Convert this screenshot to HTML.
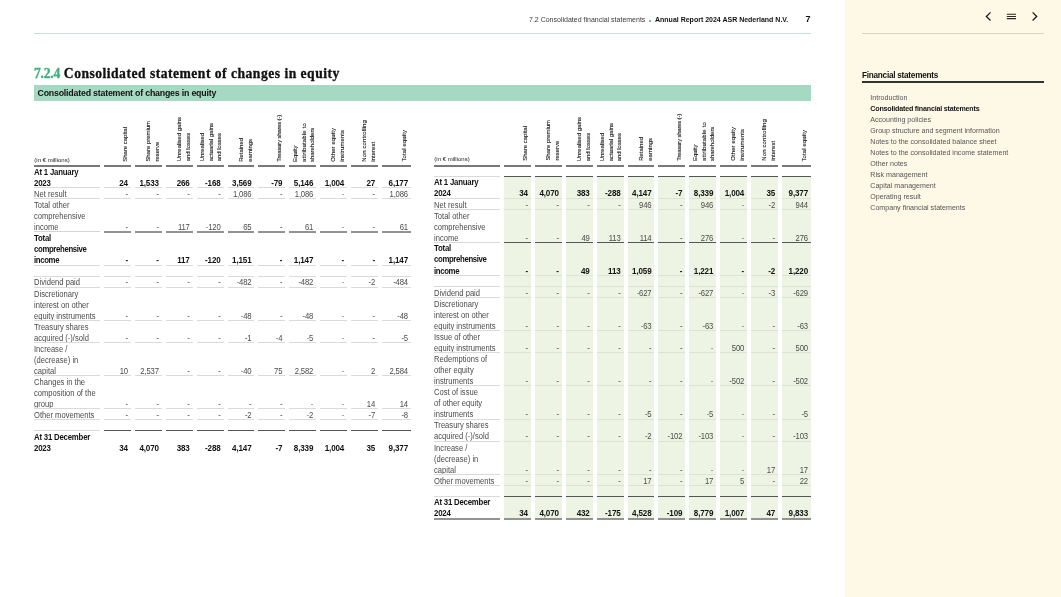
<!DOCTYPE html>
<html lang="en"><head><meta charset="utf-8"><title>7.2.4 Consolidated statement of changes in equity</title>
<style>
*{box-sizing:border-box}
html,body{margin:0;padding:0}
body{width:1061px;height:597px;overflow:hidden;background:#fff;font-family:"Liberation Sans",sans-serif;color:#222;position:relative}
.page{position:absolute;left:0;top:0;width:845px;height:597px;will-change:transform}
.top{position:absolute;left:400px;top:14px;width:411px;height:12px;line-height:12px;font-size:7px;color:#3a3a3a;white-space:nowrap;text-align:right}
.top .crumb{position:absolute;left:129px}
.top .dot{position:absolute;left:249px;top:5.9px;width:2.2px;height:2.2px;border-radius:50%;background:#3fae82;font-size:0;overflow:hidden}
.top .rep{position:absolute;left:255px;font-weight:bold;color:#111}
.top .pn{position:absolute;top:-0.6px;left:405.5px;font-weight:bold;color:#111;font-size:9px}
.toprule{position:absolute;left:34px;top:33px;width:777px;height:1px;background:#bfe5d8}
h1{position:absolute;left:34px;top:65.2px;margin:0;font-family:"Liberation Serif",serif;font-weight:bold;font-size:13.6px;letter-spacing:0.49px;line-height:18px;color:#111;white-space:nowrap;-webkit-text-stroke:0.3px #111}
h1 .num{color:#3fae82;letter-spacing:-0.25px;-webkit-text-stroke:0.3px #3fae82}
.bar{position:absolute;left:34px;top:85px;width:777px;height:16px;background:#a6d9c4;font-weight:bold;font-size:8.8px;letter-spacing:-0.2px;line-height:16px;padding-left:3.5px;color:#111;white-space:nowrap}
table.eq{position:absolute;top:104.85px;border-collapse:separate;border-spacing:4px 0;table-layout:fixed;width:385px;font-size:7.7px;color:#4a4a4a}
table.t1{left:30px;top:105.3px}
table.t2{left:430px}
col.c0{width:66px}col.cn{width:26.9px}col.cl{width:28.9px}
.eq th,.eq td{padding:0;margin:0}
.eq th{height:61px;position:relative;font-weight:normal}
.eq th::after{content:"";position:absolute;left:0;right:0;bottom:-0.7px;height:2px;background:#787878}
.eq th .vt{position:absolute;right:1.33px;bottom:4.8px;writing-mode:vertical-rl;transform:rotate(180deg);font-size:5.95px;line-height:8.65px;text-align:left;white-space:nowrap;color:#1a1a1a;-webkit-text-stroke:0.12px #1a1a1a}
.eq th .vt.l2{right:0.38px}
.eq th .vt.l3{right:-0.37px}
.eq th:last-child .vt{right:2.2px}
.eq th.lab .unit{position:absolute;left:0.3px;bottom:2.4px;font-size:6px;line-height:8px;color:#222}
.eq td{position:relative;line-height:11.04px;vertical-align:bottom;text-align:right;padding-right:3px;white-space:nowrap;letter-spacing:-0.15px}
.eq td::after{content:"";position:absolute;left:0;right:0;bottom:0;height:1px;background:#dadada}
.eq td.lab{text-align:left;padding:0;letter-spacing:0;font-size:7.6px}
.eq td span{position:relative;top:0.88px;display:block;height:11.04px;transform:scaleY(1.07);transform-origin:0 74%}
.eq tr.h1 td{height:11.04px}.eq tr.h2 td{height:22.07px}.eq tr.h3 td{height:33.1px}
.eq tr.bold td{font-weight:bold;color:#111;font-size:8.05px}
.eq tr.bold td span{top:0.38px}
.t1 tr.bold td span{top:0.7px}
.eq tr.bold td.lab .nw{letter-spacing:-0.36px}
.eq tr.bold td.lab{letter-spacing:-0.2px;font-size:7.8px}
.eq tr.tot td::after{bottom:-0.5px;height:2px;background:#939393}
.eq tr.tot td.lab::after{bottom:0;height:1px;background:#d4d4d4}
.eq tr.dk td::after{background:#555}
.eq tr.dk td.lab::after{background:#dadada}
.eq tr.none td::after{display:none}

.t2 tbody td{background:#eef4e4}
.t2 tbody td::after{background:#dde2d4}
.t2 tbody td.lab{background:none}
.t2 tbody td.lab::after{background:#dadada}
.t2 tbody tr:first-child td{background:none}
.t2 tr.tot td::after{bottom:0;height:1px;background:#555}
.t2 tr.tot td.lab::after{bottom:0;height:1px;background:#dadada}
.t2 tr.dk td::after{background:#555}
.t2 tr.dk td.lab::after{background:#dadada}
.t2 tr.end td::after,.t2 tr.end td.lab::after{bottom:-0.9px;height:2px;background:#939393}
.side{position:absolute;left:845px;top:0;width:216px;height:597px;background:#fef8e6;will-change:transform}
.side .icons{position:absolute;left:0;top:0;width:216px;height:33px}
.side svg.nav{position:absolute;left:130px;top:5px;width:75px;height:25px}
.siderule{position:absolute;left:17px;top:33px;width:182px;height:1px;background:#d9d2c2}
.side h2{position:absolute;left:17px;top:69.7px;width:182px;margin:0;font-size:8.2px;letter-spacing:-0.25px;line-height:12px;font-weight:bold;color:#111;height:12px;white-space:nowrap}
.side h2::after{content:"";position:absolute;left:0;top:11.6px;width:182px;height:2px;background:#333}
.side ul{position:absolute;left:25.3px;top:92.55px;margin:0;padding:0;list-style:none;font-size:7.1px;line-height:11.06px;color:#555;white-space:nowrap}
.side li.cur{font-weight:bold;color:#111;letter-spacing:-0.18px}

</style></head>
<body>
<div class="page">
<header class="top"><span class="crumb">7.2 Consolidated financial statements</span><span class="dot">•</span><span class="rep">Annual Report 2024 ASR Nederland N.V.</span><span class="pn">7</span></header>
<div class="toprule"></div>
<h1><span class="num">7.2.4</span> Consolidated statement of changes in equity</h1>
<div class="bar">Consolidated statement of changes in equity</div>
<table class="eq t1">
<colgroup><col class="c0"><col class="cn"><col class="cn"><col class="cn"><col class="cn"><col class="cn"><col class="cn"><col class="cn"><col class="cn"><col class="cn"><col class="cl"></colgroup>
<thead><tr>
<th class="lab"><span class="unit">(in € millions)</span></th>
<th><div class="vt l1">Share capital</div></th>
<th><div class="vt l2">Share premium<br>reserve</div></th>
<th><div class="vt l2">Unrealised gains<br>and losses</div></th>
<th><div class="vt l3">Unrealised<br>actuarial gains<br>and losses</div></th>
<th><div class="vt l2">Retained<br>earnings</div></th>
<th><div class="vt l1"><span style="letter-spacing:-0.18px">Treasury shares (-)</span></div></th>
<th><div class="vt l3">Equity<br><span style="letter-spacing:0.2px">attributable to</span><br>shareholders</div></th>
<th><div class="vt l2"><span style="letter-spacing:0.12px">Other equity</span><br><span style="letter-spacing:0.12px">instruments</span></div></th>
<th><div class="vt l2"><span style="letter-spacing:0.14px">Non controlling</span><br><span style="letter-spacing:0.05px">interest</span></div></th>
<th><div class="vt l1"><span style="letter-spacing:0.12px">Total equity</span></div></th>
</tr></thead>
<tbody>
<tr class="bold h2"><td class="lab"><span>At 1 January</span><span>2023</span></td><td><span>24</span></td><td><span>1,533</span></td><td><span>266</span></td><td><span>-168</span></td><td><span>3,569</span></td><td><span>-79</span></td><td><span>5,146</span></td><td><span>1,004</span></td><td><span>27</span></td><td><span>6,177</span></td></tr>
<tr class="h1"><td class="lab"><span>Net result</span></td><td><span>-</span></td><td><span>-</span></td><td><span>-</span></td><td><span>-</span></td><td><span>1,086</span></td><td><span>-</span></td><td><span>1,086</span></td><td><span>-</span></td><td><span>-</span></td><td><span>1,086</span></td></tr>
<tr class="h3 tot"><td class="lab"><span>Total other</span><span>comprehensive</span><span>income</span></td><td><span>-</span></td><td><span>-</span></td><td><span>117</span></td><td><span>-120</span></td><td><span>65</span></td><td><span>-</span></td><td><span>61</span></td><td><span>-</span></td><td><span>-</span></td><td><span>61</span></td></tr>
<tr class="bold h3"><td class="lab"><span>Total</span><span class="nw">comprehensive</span><span class="nw">income</span></td><td><span>-</span></td><td><span>-</span></td><td><span>117</span></td><td><span>-120</span></td><td><span>1,151</span></td><td><span>-</span></td><td><span>1,147</span></td><td><span>-</span></td><td><span>-</span></td><td><span>1,147</span></td></tr>
<tr class="h1"><td class="lab"><span></span></td><td><span></span></td><td><span></span></td><td><span></span></td><td><span></span></td><td><span></span></td><td><span></span></td><td><span></span></td><td><span></span></td><td><span></span></td><td><span></span></td></tr>
<tr class="h1"><td class="lab"><span>Dividend paid</span></td><td><span>-</span></td><td><span>-</span></td><td><span>-</span></td><td><span>-</span></td><td><span>-482</span></td><td><span>-</span></td><td><span>-482</span></td><td><span>-</span></td><td><span>-2</span></td><td><span>-484</span></td></tr>
<tr class="h3"><td class="lab"><span>Discretionary</span><span>interest on other</span><span>equity instruments</span></td><td><span>-</span></td><td><span>-</span></td><td><span>-</span></td><td><span>-</span></td><td><span>-48</span></td><td><span>-</span></td><td><span>-48</span></td><td><span>-</span></td><td><span>-</span></td><td><span>-48</span></td></tr>
<tr class="h2"><td class="lab"><span>Treasury shares</span><span>acquired (-)/sold</span></td><td><span>-</span></td><td><span>-</span></td><td><span>-</span></td><td><span>-</span></td><td><span>-1</span></td><td><span>-4</span></td><td><span>-5</span></td><td><span>-</span></td><td><span>-</span></td><td><span>-5</span></td></tr>
<tr class="h3"><td class="lab"><span>Increase /</span><span>(decrease) in</span><span>capital</span></td><td><span>10</span></td><td><span>2,537</span></td><td><span>-</span></td><td><span>-</span></td><td><span>-40</span></td><td><span>75</span></td><td><span>2,582</span></td><td><span>-</span></td><td><span>2</span></td><td><span>2,584</span></td></tr>
<tr class="h3"><td class="lab"><span>Changes in the</span><span>composition of the</span><span>group</span></td><td><span>-</span></td><td><span>-</span></td><td><span>-</span></td><td><span>-</span></td><td><span>-</span></td><td><span>-</span></td><td><span>-</span></td><td><span>-</span></td><td><span>14</span></td><td><span>14</span></td></tr>
<tr class="h1"><td class="lab"><span>Other movements</span></td><td><span>-</span></td><td><span>-</span></td><td><span>-</span></td><td><span>-</span></td><td><span>-2</span></td><td><span>-</span></td><td><span>-2</span></td><td><span>-</span></td><td><span>-7</span></td><td><span>-8</span></td></tr>
<tr class="h1 dk"><td class="lab"><span></span></td><td><span></span></td><td><span></span></td><td><span></span></td><td><span></span></td><td><span></span></td><td><span></span></td><td><span></span></td><td><span></span></td><td><span></span></td><td><span></span></td></tr>
<tr class="bold h2 none"><td class="lab"><span>At 31 December</span><span>2023</span></td><td><span>34</span></td><td><span>4,070</span></td><td><span>383</span></td><td><span>-288</span></td><td><span>4,147</span></td><td><span>-7</span></td><td><span>8,339</span></td><td><span>1,004</span></td><td><span>35</span></td><td><span>9,377</span></td></tr>
</tbody></table>
<table class="eq t2">
<colgroup><col class="c0"><col class="cn"><col class="cn"><col class="cn"><col class="cn"><col class="cn"><col class="cn"><col class="cn"><col class="cn"><col class="cn"><col class="cl"></colgroup>
<thead><tr>
<th class="lab"><span class="unit">(in € millions)</span></th>
<th><div class="vt l1">Share capital</div></th>
<th><div class="vt l2">Share premium<br>reserve</div></th>
<th><div class="vt l2">Unrealised gains<br>and losses</div></th>
<th><div class="vt l3">Unrealised<br>actuarial gains<br>and losses</div></th>
<th><div class="vt l2">Retained<br>earnings</div></th>
<th><div class="vt l1"><span style="letter-spacing:-0.18px">Treasury shares (-)</span></div></th>
<th><div class="vt l3">Equity<br><span style="letter-spacing:0.2px">attributable to</span><br>shareholders</div></th>
<th><div class="vt l2"><span style="letter-spacing:0.12px">Other equity</span><br><span style="letter-spacing:0.12px">instruments</span></div></th>
<th><div class="vt l2"><span style="letter-spacing:0.14px">Non controlling</span><br><span style="letter-spacing:0.05px">interest</span></div></th>
<th><div class="vt l1"><span style="letter-spacing:0.12px">Total equity</span></div></th>
</tr></thead>
<tbody>
<tr class="h1 dk"><td class="lab"><span></span></td><td><span></span></td><td><span></span></td><td><span></span></td><td><span></span></td><td><span></span></td><td><span></span></td><td><span></span></td><td><span></span></td><td><span></span></td><td><span></span></td></tr>
<tr class="bold h2"><td class="lab"><span>At 1 January</span><span>2024</span></td><td><span>34</span></td><td><span>4,070</span></td><td><span>383</span></td><td><span>-288</span></td><td><span>4,147</span></td><td><span>-7</span></td><td><span>8,339</span></td><td><span>1,004</span></td><td><span>35</span></td><td><span>9,377</span></td></tr>
<tr class="h1"><td class="lab"><span>Net result</span></td><td><span>-</span></td><td><span>-</span></td><td><span>-</span></td><td><span>-</span></td><td><span>946</span></td><td><span>-</span></td><td><span>946</span></td><td><span>-</span></td><td><span>-2</span></td><td><span>944</span></td></tr>
<tr class="h3 tot"><td class="lab"><span>Total other</span><span>comprehensive</span><span>income</span></td><td><span>-</span></td><td><span>-</span></td><td><span>49</span></td><td><span>113</span></td><td><span>114</span></td><td><span>-</span></td><td><span>276</span></td><td><span>-</span></td><td><span>-</span></td><td><span>276</span></td></tr>
<tr class="bold h3"><td class="lab"><span>Total</span><span class="nw">comprehensive</span><span class="nw">income</span></td><td><span>-</span></td><td><span>-</span></td><td><span>49</span></td><td><span>113</span></td><td><span>1,059</span></td><td><span>-</span></td><td><span>1,221</span></td><td><span>-</span></td><td><span>-2</span></td><td><span>1,220</span></td></tr>
<tr class="h1"><td class="lab"><span></span></td><td><span></span></td><td><span></span></td><td><span></span></td><td><span></span></td><td><span></span></td><td><span></span></td><td><span></span></td><td><span></span></td><td><span></span></td><td><span></span></td></tr>
<tr class="h1"><td class="lab"><span>Dividend paid</span></td><td><span>-</span></td><td><span>-</span></td><td><span>-</span></td><td><span>-</span></td><td><span>-627</span></td><td><span>-</span></td><td><span>-627</span></td><td><span>-</span></td><td><span>-3</span></td><td><span>-629</span></td></tr>
<tr class="h3"><td class="lab"><span>Discretionary</span><span>interest on other</span><span>equity instruments</span></td><td><span>-</span></td><td><span>-</span></td><td><span>-</span></td><td><span>-</span></td><td><span>-63</span></td><td><span>-</span></td><td><span>-63</span></td><td><span>-</span></td><td><span>-</span></td><td><span>-63</span></td></tr>
<tr class="h2"><td class="lab"><span>Issue of other</span><span>equity instruments</span></td><td><span>-</span></td><td><span>-</span></td><td><span>-</span></td><td><span>-</span></td><td><span>-</span></td><td><span>-</span></td><td><span>-</span></td><td><span>500</span></td><td><span>-</span></td><td><span>500</span></td></tr>
<tr class="h3"><td class="lab"><span>Redemptions of</span><span>other equity</span><span>instruments</span></td><td><span>-</span></td><td><span>-</span></td><td><span>-</span></td><td><span>-</span></td><td><span>-</span></td><td><span>-</span></td><td><span>-</span></td><td><span>-502</span></td><td><span>-</span></td><td><span>-502</span></td></tr>
<tr class="h3"><td class="lab"><span>Cost of issue</span><span>of other equity</span><span>instruments</span></td><td><span>-</span></td><td><span>-</span></td><td><span>-</span></td><td><span>-</span></td><td><span>-5</span></td><td><span>-</span></td><td><span>-5</span></td><td><span>-</span></td><td><span>-</span></td><td><span>-5</span></td></tr>
<tr class="h2"><td class="lab"><span>Treasury shares</span><span>acquired (-)/sold</span></td><td><span>-</span></td><td><span>-</span></td><td><span>-</span></td><td><span>-</span></td><td><span>-2</span></td><td><span>-102</span></td><td><span>-103</span></td><td><span>-</span></td><td><span>-</span></td><td><span>-103</span></td></tr>
<tr class="h3"><td class="lab"><span>Increase /</span><span>(decrease) in</span><span>capital</span></td><td><span>-</span></td><td><span>-</span></td><td><span>-</span></td><td><span>-</span></td><td><span>-</span></td><td><span>-</span></td><td><span>-</span></td><td><span>-</span></td><td><span>17</span></td><td><span>17</span></td></tr>
<tr class="h1"><td class="lab"><span>Other movements</span></td><td><span>-</span></td><td><span>-</span></td><td><span>-</span></td><td><span>-</span></td><td><span>17</span></td><td><span>-</span></td><td><span>17</span></td><td><span>5</span></td><td><span>-</span></td><td><span>22</span></td></tr>
<tr class="h1 dk"><td class="lab"><span></span></td><td><span></span></td><td><span></span></td><td><span></span></td><td><span></span></td><td><span></span></td><td><span></span></td><td><span></span></td><td><span></span></td><td><span></span></td><td><span></span></td></tr>
<tr class="bold h2 end"><td class="lab"><span>At 31 December</span><span>2024</span></td><td><span>34</span></td><td><span>4,070</span></td><td><span>432</span></td><td><span>-175</span></td><td><span>4,528</span></td><td><span>-109</span></td><td><span>8,779</span></td><td><span>1,007</span></td><td><span>47</span></td><td><span>9,833</span></td></tr>
</tbody></table>
</div>
<aside class="side">
<div class="icons">
<svg class="nav" viewBox="975 5 75 25" width="75" height="25">
<path d="M990.5 12.4 L986.4 16.45 L990.5 20.5" fill="none" stroke="#1c1c1c" stroke-width="1.3"/>
<path d="M1006.8 14.25H1016M1006.8 16.45H1016M1006.8 18.6H1016" fill="none" stroke="#2a2622" stroke-width="1.1"/>
<path d="M1032.6 12.4 L1036.7 16.45 L1032.6 20.5" fill="none" stroke="#1c1c1c" stroke-width="1.3"/>
</svg>
</div>
<div class="siderule"></div>
<h2>Financial statements</h2>
<ul>
<li>Introduction</li>
<li class="cur">Consolidated financial statements</li>
<li>Accounting policies</li>
<li>Group structure and segment information</li>
<li>Notes to the consolidated balance sheet</li>
<li>Notes to the consolidated income statement</li>
<li>Other notes</li>
<li>Risk management</li>
<li>Capital management</li>
<li>Operating result</li>
<li>Company financial statements</li>
</ul>
</aside>
</body></html>
